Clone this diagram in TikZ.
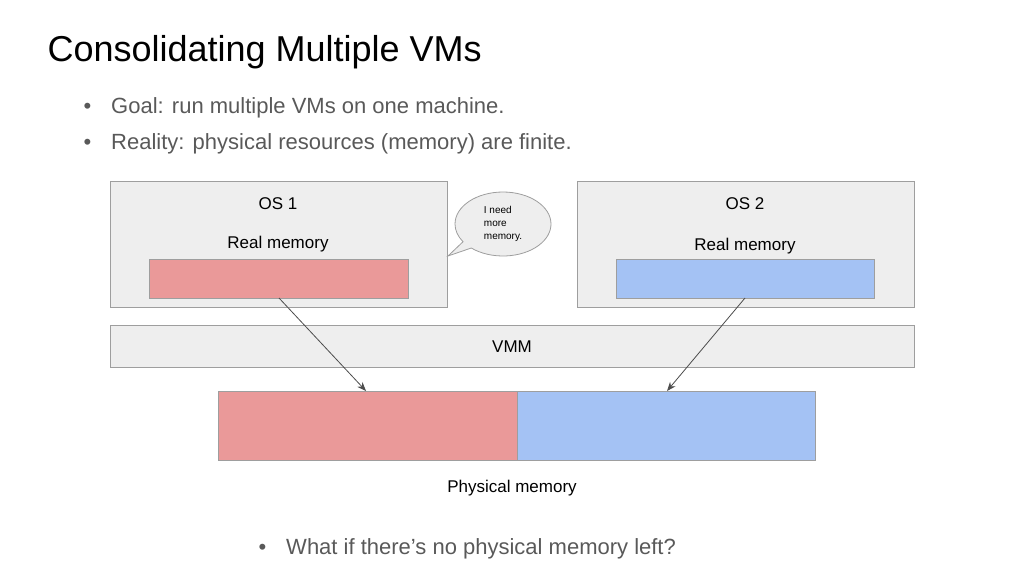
\documentclass[tikz,border=0pt]{standalone}
\usepackage{fontspec}
\setmainfont{Liberation Sans}
\usetikzlibrary{shapes.callouts,arrows.meta}
\definecolor{gbox}{HTML}{EEEEEE}
\definecolor{gline}{HTML}{9E9E9E}
\definecolor{rmem}{HTML}{EA9999}
\definecolor{bmem}{HTML}{A4C2F4}
\definecolor{txt}{HTML}{595959}
\begin{document}
\begin{tikzpicture}[x=1pt,y=-1pt,
  box/.style={draw=gline,fill=gbox,line width=0.8pt},
  mem/.style={draw=gline,line width=0.8pt},
  lbl/.style={font=\fontsize{17}{20}\selectfont,anchor=center},
  bul/.style={font=\fontsize{22}{26}\selectfont,text=txt,anchor=west},
  arr/.style={draw=black!70,line width=0.8pt,-{Stealth[length=9pt,width=7pt]}}]
\useasboundingbox (0,0) rectangle (1024,576);
\node[anchor=west,font=\fontsize{36}{40}\selectfont] (title) at (44,52) {Consolidating Multiple VMs};
\node[bul] (b1) at (80,108) {\textbullet\hspace{20pt}Goal: run multiple VMs on one machine.};
\node[bul] (b2) at (80,144) {\textbullet\hspace{20pt}Reality: physical resources (memory) are finite.};
\node[box,minimum width=337pt,minimum height=126pt,anchor=north west] (os1) at (110,181) {};
\node[box,minimum width=337pt,minimum height=126pt,anchor=north west] (os2) at (577,181) {};
\node[lbl] (os1t) at (278,204) {OS 1};
\node[lbl] (os2t) at (745,204) {OS 2};
\node[lbl] (rm1) at (278,244) {Real memory};
\node[lbl] (rm2) at (745,246) {Real memory};
\node[mem,fill=rmem,minimum width=259pt,minimum height=39pt,anchor=north west] (r1) at (149,259) {};
\node[mem,fill=bmem,minimum width=258pt,minimum height=39pt,anchor=north west] (r2) at (616,259) {};
\node[box,minimum width=804pt,minimum height=42pt,anchor=north west] (vmm) at (110,325) {};
\node[lbl] (vmmt) at (512,347) {VMM};
\node[mem,fill=rmem,minimum width=299pt,minimum height=69pt,anchor=north west] (p1) at (218,391) {};
\node[mem,fill=bmem,minimum width=298pt,minimum height=69pt,anchor=north west] (p2) at (517,391) {};
\node[lbl] (pmt) at (512,488) {Physical memory};
\coordinate (a1s) at (279,298); \coordinate (a1e) at (366,391);
\coordinate (a2s) at (745,298); \coordinate (a2e) at (667,391);
\draw[arr] (a1s) -- (a1e);
\draw[arr] (a2s) -- (a2e);
\node[ellipse callout,draw=gline,fill=gbox,line width=0.8pt,minimum width=96pt,minimum height=64pt,
  callout absolute pointer={(448,256)},align=left,font=\fontsize{10}{13}\selectfont,inner sep=0pt] (bub) at (503,224) {I need\\more\\memory.};
\node[bul] (b3) at (255,549) {\textbullet\hspace{20pt}What if there's no physical memory left?};
\end{tikzpicture}
\end{document}
